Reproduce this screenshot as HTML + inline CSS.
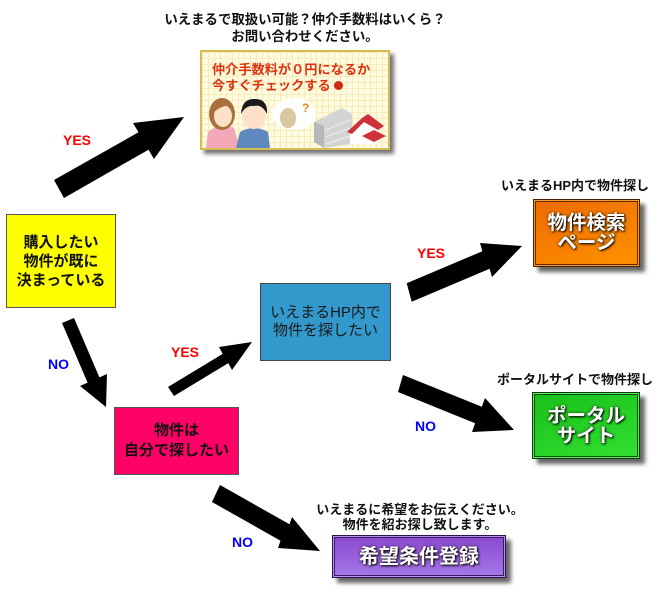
<!DOCTYPE html>
<html><head><meta charset="utf-8">
<style>
html,body{margin:0;padding:0;background:#fff;}
body{width:660px;height:598px;position:relative;overflow:hidden;font-family:"Liberation Sans","Noto Sans CJK JP",sans-serif;}
.abs{position:absolute;}
.t{position:absolute;white-space:nowrap;text-align:center;font-weight:bold;color:#111;}
.lbl{position:absolute;font-family:"Liberation Sans",sans-serif;font-weight:bold;font-size:14px;line-height:14px;}
.box{position:absolute;box-sizing:border-box;display:flex;flex-direction:column;align-items:center;justify-content:center;text-align:center;}
.fancy{color:#fff;font-weight:bold;font-size:19.5px;line-height:20px;text-shadow:1px 1px 2px #000,0 0 3px rgba(0,0,0,.6);}
</style></head><body>

<svg class="abs" style="left:0;top:0" width="660" height="598" viewBox="0 0 660 598">
  <polygon fill="#000" points="54,180 138.5,132.3 133,123 184,117 154,159 148.5,149.7 64,198"/>
  <polygon fill="#000" points="62,323 87.6,382.6 80,386 106,407 107,374 99.4,377.4 74,318"/>
  <polygon fill="#000" points="168,387 222.7,353.9 219,347 252,342 232,370 228.3,363.1 174,396"/>
  <polygon fill="#000" points="406.7,283.3 482.4,251.2 480,243 522,246 492,277 489.6,268.8 411.7,301.7"/>
  <polygon fill="#000" points="403,375 481.9,406.8 485,398 514,430 472,432 475.1,423.2 398,392"/>
  <polygon fill="#000" points="220,485 289.5,524.3 292,517 320,551 278,548 280.5,540.7 212,502"/>
</svg>

<!-- top title -->
<div class="t" style="left:150px;top:11px;width:310px;font-size:13.4px;line-height:17px;">いえまるで取扱い可能？仲介手数料はいくら？<br>お問い合わせください。</div>

<!-- banner -->
<div class="abs" style="left:200px;top:50px;width:190px;height:100px;box-sizing:border-box;border:2px solid #d6bd55;box-shadow:4px 4px 4px rgba(0,0,0,.55);background-color:#fffbe0;background-image:linear-gradient(#f6ecb8 1px,transparent 1px),linear-gradient(90deg,#f6ecb8 1px,transparent 1px);background-size:6px 6px;overflow:hidden;">
  <div class="t" style="left:10px;top:10px;font-size:13.2px;line-height:16px;color:#dd3311;text-align:left;">仲介手数料が０円になるか<br>今すぐチェックする <span style="display:inline-block;width:9px;height:9px;border-radius:50%;background:#cc2a10;vertical-align:0px;"></span></div>
  <svg class="abs" style="left:0;top:0" width="186" height="96" viewBox="0 0 186 96">
    <!-- woman -->
    <path d="M4,96 L6,80 Q18,70 32,76 L38,96 Z" fill="#f3a8b8"/>
    <ellipse cx="20" cy="62" rx="13" ry="16" fill="#a8703c"/>
    <ellipse cx="21" cy="64" rx="9" ry="11" fill="#fde0c8"/>
    <path d="M10,56 Q20,44 32,56 Q24,50 12,60 Z" fill="#a8703c"/>
    <!-- man -->
    <path d="M34,96 L38,80 Q52,72 66,80 L68,96 Z" fill="#5e88c0"/>
    <ellipse cx="52" cy="64" rx="12" ry="13" fill="#fde0c8"/>
    <path d="M39,62 Q40,46 53,47 Q66,47 65,62 Q60,52 52,54 Q44,53 39,62 Z" fill="#1a1a1a"/>
    <!-- cloud -->
    <ellipse cx="92" cy="62" rx="22" ry="16" fill="#fff"/>
    <ellipse cx="86" cy="66" rx="8" ry="10" fill="#d8c8a0"/>
    <text x="100" y="60" font-family="Liberation Sans,sans-serif" font-weight="bold" font-size="12" fill="#e08a10">?</text>
    <!-- building -->
    <polygon points="112,70 140,56 150,62 150,92 122,96 112,90" fill="#d4d4d4"/>
    <polygon points="112,70 122,74 122,96 112,90" fill="#b8b8b8"/>
    <g stroke="#eeeeee" stroke-width="1">
      <line x1="124" y1="78" x2="148" y2="68"/><line x1="124" y1="85" x2="148" y2="76"/><line x1="124" y1="92" x2="148" y2="84"/>
    </g>
    <!-- house -->
    <polygon points="148,78 162,70 176,78 176,92 148,92" fill="#fff"/>
    <polygon points="145,80 160,66 166,62 182,74 176,78 162,70 150,82" fill="#d0303a"/>
    <polygon points="160,84 172,78 184,84 172,90" fill="#d0303a"/>
  </svg>
</div>

<!-- YES / NO labels -->
<div class="lbl" style="left:63px;top:133px;color:#ff0000;">YES</div>
<div class="lbl" style="left:48px;top:357px;color:#0000ff;">NO</div>
<div class="lbl" style="left:171px;top:345px;color:#ff0000;">YES</div>
<div class="lbl" style="left:417px;top:246px;color:#ff0000;">YES</div>
<div class="lbl" style="left:415px;top:419px;color:#0000ff;">NO</div>
<div class="lbl" style="left:232px;top:535px;color:#0000ff;">NO</div>

<!-- yellow box -->
<div class="box" style="left:6px;top:214px;width:110px;height:94px;background:#ffff00;border:1px solid #555;font-weight:bold;font-size:15px;line-height:19px;color:#111;">購入したい<br>物件が既に<br>決まっている</div>

<!-- blue box -->
<div class="box" style="left:260px;top:283px;width:131px;height:78px;background:#3399cc;border:1px solid #444;font-size:15px;line-height:18px;color:#1a1a1a;">いえまるHP内で<br>物件を探したい</div>

<!-- pink box -->
<div class="box" style="left:114px;top:407px;width:125px;height:68px;background:#ff0066;border:1px solid #555;font-weight:bold;font-size:15px;line-height:20px;color:#111;">物件は<br>自分で探したい</div>

<!-- orange -->
<div class="t" style="left:490px;top:178px;width:170px;font-size:13px;line-height:16px;">いえまるHP内で物件探し</div>
<div class="box fancy" style="left:533px;top:199px;width:107px;height:68px;border:1px solid #4a2000;box-shadow:inset 0 0 0 1px #ff9a30,inset 0 0 0 2px #5a2a00,5px 5px 4px rgba(0,0,0,.6);background:linear-gradient(160deg,#ee6a00,#ff9200);">物件検索<br>ページ</div>

<!-- green -->
<div class="t" style="left:490px;top:372px;width:170px;font-size:13px;line-height:16px;">ポータルサイトで物件探し</div>
<div class="box fancy" style="left:532px;top:392px;width:108px;height:67px;border:1px solid #0c3a0c;box-shadow:inset 0 0 0 1px #55ee55,inset 0 0 0 2px #0c4a0c,5px 5px 4px rgba(0,0,0,.6);background:linear-gradient(160deg,#18c018,#34e034);">ポータル<br>サイト</div>

<!-- purple -->
<div class="t" style="left:300px;top:502px;width:240px;font-size:13px;line-height:15px;">いえまるに希望をお伝えください。<br>物件を紹お探し致します。</div>
<div class="box fancy" style="left:332px;top:535px;width:174px;height:43px;font-size:20px;border:1px solid #2e1450;box-shadow:inset 0 0 0 1px #b890f0,inset 0 0 0 2px #3a1a60,5px 5px 4px rgba(0,0,0,.6);background:linear-gradient(180deg,#8a48d0,#a678e8);">希望条件登録</div>

</body></html>
